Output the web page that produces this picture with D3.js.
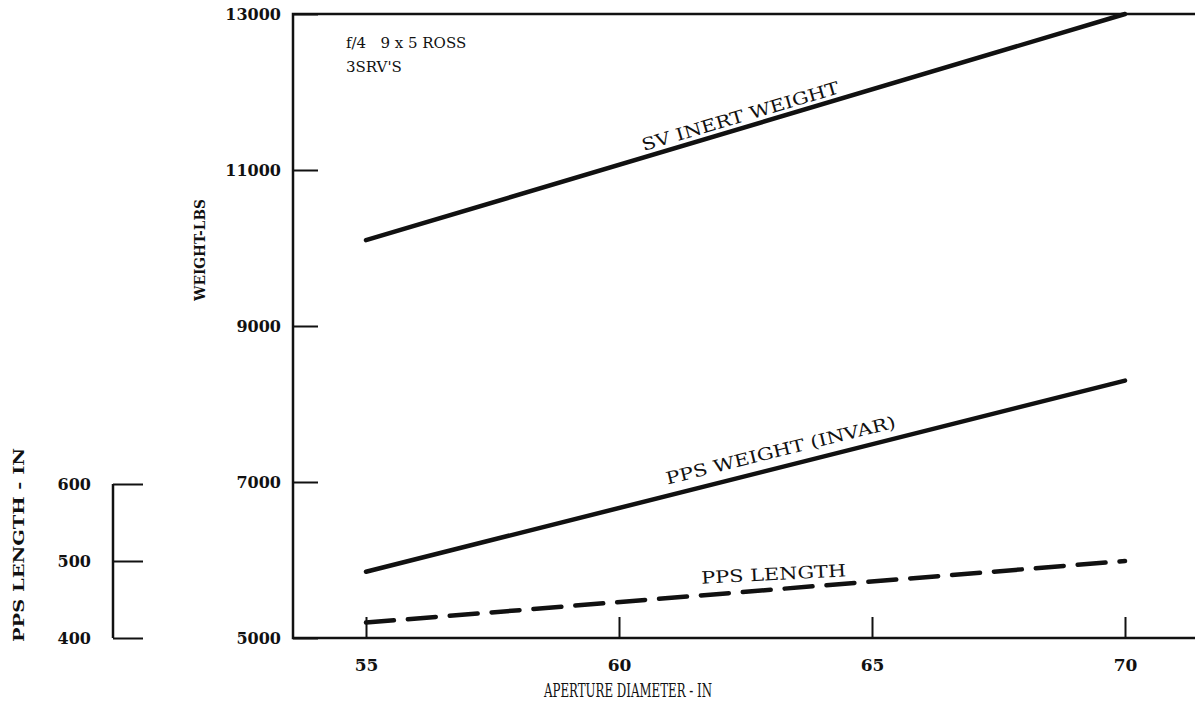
<!DOCTYPE html>
<html><head><meta charset="utf-8">
<script src="https://cdn.jsdelivr.net/npm/d3@7"></script>
<style>body{margin:0;background:#fff}svg{display:block}text{font-family:"DejaVu Serif","Liberation Serif",serif;fill:#111}</style>
</head><body>
<script>
// Data
const apertures = [55, 70];
const svInertWeight = [10100, 13000];
const ppsWeight = [5850, 8300];
const ppsLength = [420, 500];
const xTicks = [55, 60, 65, 70];
const yTicks = [5000, 7000, 9000, 11000, 13000];
const lenTicks = [400, 500, 600];

const W = 1195, H = 702;
const svg = d3.select("body").append("svg").attr("width", W).attr("height", H);

const x = d3.scaleLinear().domain([55, 70]).range([366, 1125]);
const y = d3.scaleLinear().domain([5000, 13000]).range([638, 14]);
const yLen = d3.scaleLinear().domain([400, 600]).range([638, 484]);
const frameLeft = 293, frameRight = 1195;

const ink = "#111";
// Frame lines
svg.append("path").attr("d", `M${frameRight},${y(13000)}H${frameLeft}V${y(5000)}H${frameRight}`)
  .attr("fill", "none").attr("stroke", ink).attr("stroke-width", 2.5);

// Bottom axis
const gx = svg.append("g").attr("transform", `translate(0,${y(5000)})`)
  .call(d3.axisBottom(x).tickValues(xTicks).tickSizeInner(-21).tickSizeOuter(0));
gx.select(".domain").remove();
gx.selectAll(".tick line").attr("stroke", ink).attr("stroke-width", 2);
gx.selectAll(".tick text").attr("font-size", 17).attr("font-weight", "bold")
  .attr("font-family", "Liberation Serif").attr("dy", 0).attr("y", 33);

// Left axis
const gy = svg.append("g").attr("transform", `translate(${frameLeft},0)`)
  .call(d3.axisLeft(y).tickValues(yTicks).tickSizeInner(-25).tickSizeOuter(0).tickFormat(d3.format("d")));
gy.select(".domain").remove();
gy.selectAll(".tick line").attr("stroke", ink).attr("stroke-width", 2);
gy.selectAll(".tick text").attr("font-size", 16).attr("font-weight", "bold").attr("x", -12);

// PPS length axis
const gl = svg.append("g").attr("transform", `translate(113,0)`)
  .call(d3.axisRight(yLen).tickValues(lenTicks).tickSizeInner(30).tickSizeOuter(0));
gl.select(".domain").attr("stroke", ink).attr("stroke-width", 2.5).attr("d", `M0,${yLen(400)}V${yLen(600)}`);
gl.selectAll(".tick line").attr("stroke", ink).attr("stroke-width", 2);
gl.selectAll(".tick text").attr("font-size", 16).attr("font-weight", "bold").attr("text-anchor", "end").attr("x", -22);

// Lines
const line = d3.line().x((d) => x(d[0])).y((d) => d[1]);
function draw(vals, scale, dash) {
  const pts = apertures.map((a, i) => [a, scale(vals[i])]);
  svg.append("path").attr("d", line(pts)).attr("fill", "none").attr("stroke", ink)
    .attr("stroke-width", 4.5).attr("stroke-linecap", "round")
    .attr("stroke-dasharray", dash || null);
}
draw(svInertWeight, y);
draw(ppsWeight, y);
draw(ppsLength, yLen, "28,14");

// Line labels
function label(txt, cx, cy, ang, size, len) {
  svg.append("text").attr("transform", `translate(${cx},${cy}) rotate(${ang})`)
    .attr("text-anchor", "middle").attr("font-size", size)
    .attr("textLength", len).attr("lengthAdjust", "spacingAndGlyphs").text(txt);
}
label("SV INERT WEIGHT", 742, 122, -16.5, 17, 205);
label("PPS WEIGHT (INVAR)", 782, 456, -14, 17, 236);
label("PPS LENGTH", 774, 580, -3, 17, 145);

// Annotation
svg.append("text").attr("x", 346).attr("y", 48).attr("font-size", 15).attr("xml:space", "preserve").text("f/4   9 x 5 ROSS");
svg.append("text").attr("x", 346).attr("y", 72).attr("font-size", 15).text("3SRV'S");

// Axis titles
svg.append("text").attr("x", 628).attr("y", 697).attr("text-anchor", "middle").attr("font-size", 19)
  .attr("font-family", "Liberation Serif")
  .attr("textLength", 168).attr("lengthAdjust", "spacingAndGlyphs").text("APERTURE DIAMETER - IN");
svg.append("text").attr("transform", "translate(205,250) rotate(-90)").attr("text-anchor", "middle")
  .attr("font-size", 14).attr("font-weight", "bold")
  .attr("textLength", 102).attr("lengthAdjust", "spacingAndGlyphs").text("WEIGHT-LBS");
svg.append("text").attr("transform", "translate(24,545) rotate(-90)").attr("text-anchor", "middle")
  .attr("font-size", 15).attr("font-weight", "bold")
  .attr("textLength", 194).attr("lengthAdjust", "spacingAndGlyphs").text("PPS LENGTH - IN");
</script>
</body></html>
